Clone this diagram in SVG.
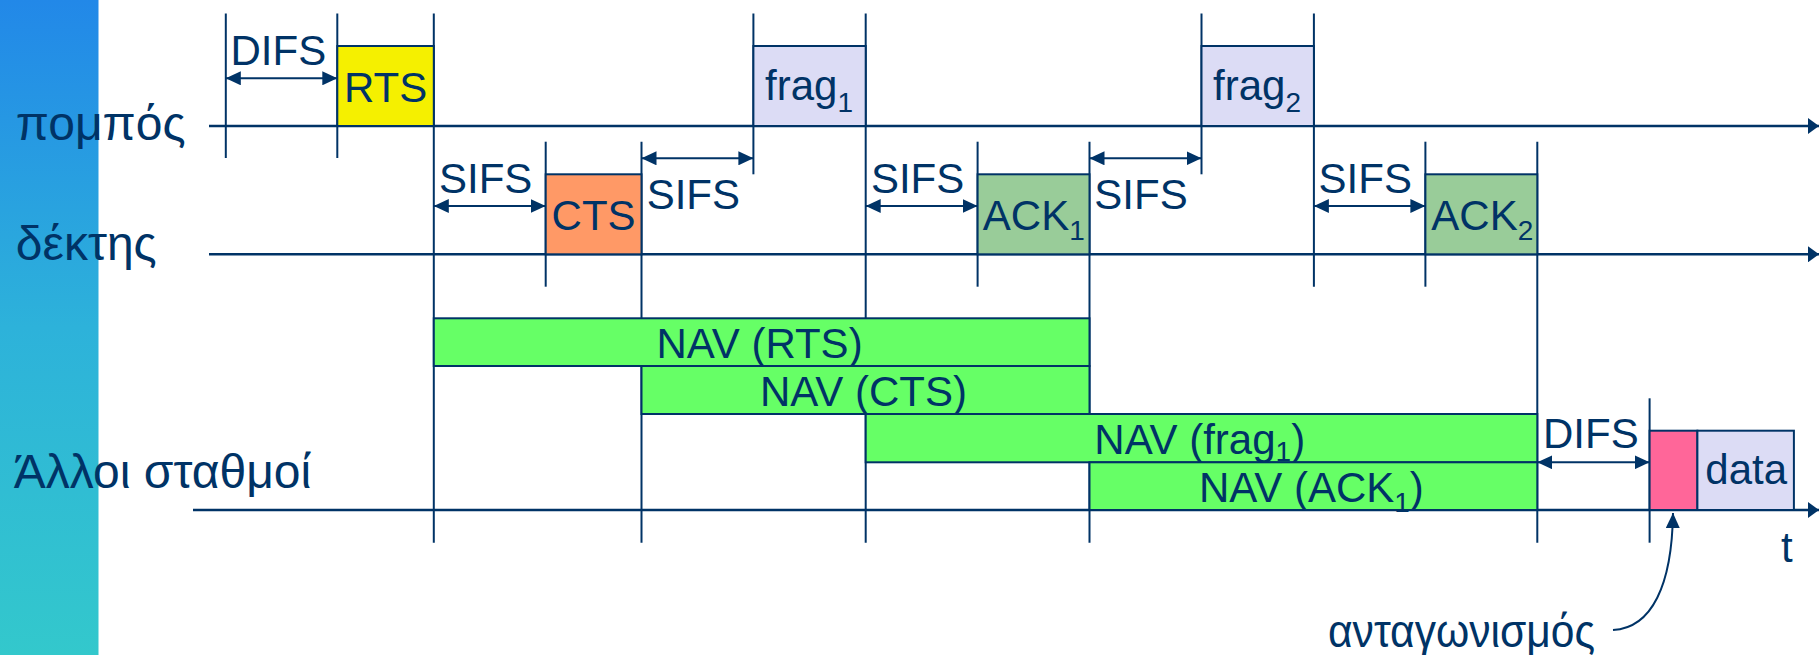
<svg xmlns="http://www.w3.org/2000/svg" width="1820" height="655" viewBox="0 0 1820 655">
<defs>
<linearGradient id="bar" x1="0" y1="0" x2="0" y2="1">
<stop offset="0" stop-color="#2288E8"/>
<stop offset="0.5" stop-color="#2DB2DA"/>
<stop offset="1" stop-color="#33C8CC"/>
</linearGradient>
<marker id="ah" markerUnits="userSpaceOnUse" markerWidth="16" markerHeight="14" refX="15" refY="7" orient="auto-start-reverse">
<path d="M0,0 L15,7 L0,14 z" fill="#003366"/>
</marker>
<marker id="axh" markerUnits="userSpaceOnUse" markerWidth="12" markerHeight="16" refX="11" refY="8" orient="auto">
<path d="M0,0 L11,8 L0,16 z" fill="#003366"/>
</marker>
</defs>
<style>
text{font-family:"Liberation Sans",Arial,sans-serif;fill:#003366;font-size:42px}
.lab{font-size:48px}
.sub{font-size:28px}
.ln{stroke:#003366;stroke-width:2;fill:none}
.ax{stroke:#003366;stroke-width:2.5;fill:none}
.box{stroke:#003366;stroke-width:2}
</style>
<rect x="0" y="0" width="98.5" height="655" fill="url(#bar)"/>

<g id="connectors">
<line class="ax" x1="209" y1="126" x2="1819" y2="126" marker-end="url(#axh)"/>
<line class="ax" x1="209" y1="254.3" x2="1819" y2="254.3" marker-end="url(#axh)"/>
<line class="ax" x1="193" y1="510" x2="1819" y2="510" marker-end="url(#axh)"/>
<line class="ln" x1="225.8" y1="13.5" x2="225.8" y2="158"/>
<line class="ln" x1="337.3" y1="13.5" x2="337.3" y2="158"/>
<line class="ln" x1="433.8" y1="13.5" x2="433.8" y2="542.7"/>
<line class="ln" x1="545.7" y1="141.7" x2="545.7" y2="286.7"/>
<line class="ln" x1="641.5" y1="141.7" x2="641.5" y2="542.7"/>
<line class="ln" x1="753.4" y1="13.5" x2="753.4" y2="174.3"/>
<line class="ln" x1="865.7" y1="13.5" x2="865.7" y2="542.7"/>
<line class="ln" x1="977.6" y1="141.7" x2="977.6" y2="286.7"/>
<line class="ln" x1="1089.5" y1="141.7" x2="1089.5" y2="542.7"/>
<line class="ln" x1="1201.5" y1="13.5" x2="1201.5" y2="174.3"/>
<line class="ln" x1="1313.9" y1="13.5" x2="1313.9" y2="286.7"/>
<line class="ln" x1="1425.4" y1="141.7" x2="1425.4" y2="286.7"/>
<line class="ln" x1="1537.3" y1="141.7" x2="1537.3" y2="542.7"/>
<line class="ln" x1="1649.6" y1="398.3" x2="1649.6" y2="542.7"/>
<line class="ln" x1="225.8" y1="78.3" x2="337.3" y2="78.3" marker-start="url(#ah)" marker-end="url(#ah)"/>
<line class="ln" x1="433.8" y1="206" x2="545.7" y2="206" marker-start="url(#ah)" marker-end="url(#ah)"/>
<line class="ln" x1="641.5" y1="158.3" x2="753.4" y2="158.3" marker-start="url(#ah)" marker-end="url(#ah)"/>
<line class="ln" x1="865.7" y1="206" x2="977.6" y2="206" marker-start="url(#ah)" marker-end="url(#ah)"/>
<line class="ln" x1="1089.5" y1="158.3" x2="1201.5" y2="158.3" marker-start="url(#ah)" marker-end="url(#ah)"/>
<line class="ln" x1="1313.9" y1="206" x2="1425.4" y2="206" marker-start="url(#ah)" marker-end="url(#ah)"/>
<line class="ln" x1="1537.3" y1="462.3" x2="1649.6" y2="462.3" marker-start="url(#ah)" marker-end="url(#ah)"/>
<path class="ln" d="M1613,630 C1652,628 1672,585 1673,513" marker-end="url(#ah)"/>
</g>

<g id="labels">
<text class="lab" x="15.8" y="140">πομπός</text>
<text class="lab" x="15.8" y="260">δέκτης</text>
<text class="lab" x="13.8" y="488">Άλλοι σταθμοί</text>
<text x="230.5" y="65">DIFS</text>
<text x="439" y="193.3">SIFS</text>
<text x="646.7" y="209.3">SIFS</text>
<text x="870.9" y="193.3">SIFS</text>
<text x="1094.3" y="209.3">SIFS</text>
<text x="1318.6" y="193.3">SIFS</text>
<text x="1543" y="448.3">DIFS</text>
<text x="1781" y="561.7">t</text>
<text x="1328" y="647" style="font-size:46px" textLength="267" lengthAdjust="spacingAndGlyphs">ανταγωνισμός</text>
</g>

<g id="rts"><rect class="box" x="337.3" y="46" width="96.5" height="80" fill="#F5F000"/><text x="344" y="101.7">RTS</text></g>
<g id="frag1"><rect class="box" x="753.4" y="46" width="112.3" height="80" fill="#DCDCF5"/><text x="765" y="100">frag<tspan class="sub" dy="12">1</tspan></text></g>
<g id="frag2"><rect class="box" x="1201.5" y="46" width="112.4" height="80" fill="#DCDCF5"/><text x="1213" y="100">frag<tspan class="sub" dy="12">2</tspan></text></g>
<g id="cts"><rect class="box" x="545.7" y="174.3" width="95.8" height="80" fill="#FF9966"/><text x="551.6" y="230">CTS</text></g>
<g id="ack1"><rect class="box" x="977.6" y="174.3" width="111.9" height="80" fill="#99CC99"/><text x="982.8" y="230">ACK<tspan class="sub" dy="10">1</tspan></text></g>
<g id="ack2"><rect class="box" x="1425.4" y="174.3" width="111.9" height="80" fill="#99CC99"/><text x="1431.3" y="230">ACK<tspan class="sub" dy="10">2</tspan></text></g>
<g id="nav-rts"><rect class="box" x="433.8" y="318.3" width="655.7" height="47.7" fill="#66FF66"/><text x="656.5" y="358.3">NAV (RTS)</text></g>
<g id="nav-cts"><rect class="box" x="641.5" y="366" width="448" height="48" fill="#66FF66"/><text x="760" y="406">NAV (CTS)</text></g>
<g id="nav-frag1"><rect class="box" x="865.7" y="414" width="671.6" height="48.3" fill="#66FF66"/><text x="1094.3" y="454">NAV (frag<tspan class="sub" dy="7">1</tspan><tspan dy="-7">)</tspan></text></g>
<g id="nav-ack1"><rect class="box" x="1089.5" y="462.3" width="447.8" height="47.7" fill="#66FF66"/><text x="1199" y="501.7">NAV (ACK<tspan class="sub" dy="10">1</tspan><tspan dy="-10">)</tspan></text></g>
<g id="contention"><rect class="box" x="1649.6" y="430.7" width="47.8" height="79.3" fill="#FF6699"/></g>
<g id="data"><rect class="box" x="1697.4" y="430.7" width="96.5" height="79.3" fill="#DCDCF5"/><text x="1705.3" y="484.3">data</text></g>
</svg>
